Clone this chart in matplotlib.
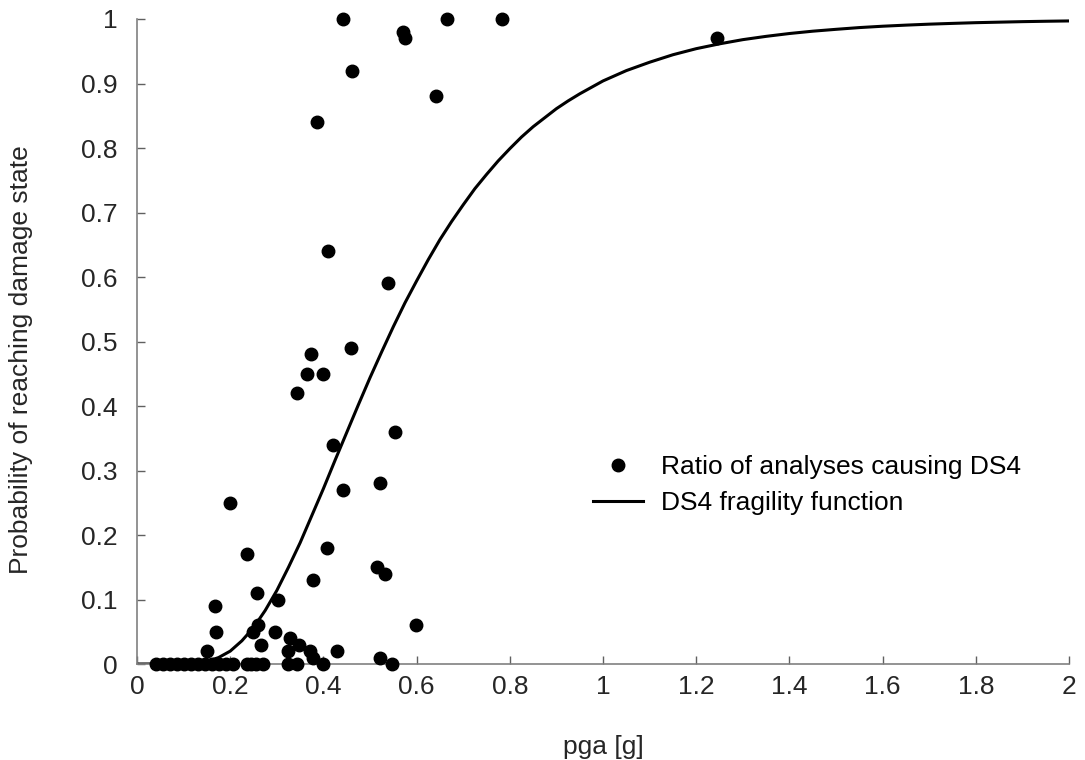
import matplotlib
matplotlib.use('Agg')
import matplotlib.pyplot as plt
from matplotlib.ticker import FuncFormatter

plt.rcParams['font.family'] = ['Liberation Sans', 'DejaVu Sans']

# Ratio of analyses causing DS4
pga_pts = [0.442, 0.665, 0.783, 0.571, 0.575, 1.245, 0.461, 0.642, 0.386, 0.41,
           0.539, 0.459, 0.373, 0.365, 0.40, 0.343, 0.554, 0.421, 0.521, 0.443,
           0.20, 0.407, 0.236, 0.515, 0.532, 0.377, 0.257, 0.302, 0.167, 0.26,
           0.599, 0.17, 0.249, 0.296, 0.328, 0.348, 0.266, 0.15, 0.324, 0.371,
           0.429, 0.378, 0.521,
           0.04, 0.055, 0.07, 0.085, 0.10, 0.115, 0.13, 0.145, 0.16, 0.175,
           0.19, 0.205, 0.235, 0.245, 0.255, 0.27, 0.325, 0.343, 0.40, 0.547]
ratio_pts = [1.0, 1.0, 1.0, 0.98, 0.97, 0.97, 0.92, 0.88, 0.84, 0.64,
             0.59, 0.49, 0.48, 0.45, 0.45, 0.42, 0.36, 0.34, 0.28, 0.27,
             0.25, 0.18, 0.17, 0.15, 0.14, 0.13, 0.11, 0.10, 0.09, 0.06,
             0.06, 0.05, 0.05, 0.05, 0.04, 0.03, 0.03, 0.02, 0.02, 0.02,
             0.02, 0.01, 0.01,
             0, 0, 0, 0, 0, 0, 0, 0, 0, 0,
             0, 0, 0, 0, 0, 0, 0, 0, 0, 0]

# DS4 fragility function
pga_curve = [0.0, 0.1, 0.125, 0.15, 0.175, 0.2, 0.225, 0.25, 0.275, 0.3,
             0.325, 0.35, 0.375, 0.4, 0.425, 0.45, 0.475, 0.5, 0.525, 0.55,
             0.575, 0.6, 0.625, 0.65, 0.675, 0.7, 0.725, 0.75, 0.775, 0.8,
             0.825, 0.85, 0.875, 0.9, 0.925, 0.95, 0.975, 1.0, 1.05, 1.1,
             1.15, 1.2, 1.25, 1.3, 1.35, 1.4, 1.45, 1.5, 1.55, 1.6,
             1.65, 1.7, 1.75, 1.8, 1.85, 1.9, 1.95, 2.0]
p_curve = [0.0, 0.0002, 0.001, 0.004, 0.010, 0.020, 0.036, 0.0565, 0.083, 0.114,
           0.150, 0.188, 0.230, 0.272, 0.316, 0.359, 0.402, 0.444, 0.484, 0.523,
           0.560, 0.594, 0.627, 0.658, 0.686, 0.712, 0.737, 0.759, 0.780, 0.799,
           0.817, 0.833, 0.847, 0.861, 0.873, 0.884, 0.894, 0.904, 0.920, 0.933,
           0.9446, 0.954, 0.9615, 0.968, 0.9731, 0.9775, 0.9811, 0.984, 0.9867, 0.9888,
           0.9905, 0.992, 0.9932, 0.9943, 0.9951, 0.9959, 0.9965, 0.997]

fig = plt.figure(figsize=(10.85, 7.6), dpi=100)
ax = fig.add_axes([0.1263, 0.1263, 0.8590, 0.8487])

ax.plot(pga_pts, ratio_pts, 'o', color='black', markersize=9, clip_on=False,
        label='Ratio of analyses causing DS4', zorder=3)
ax.plot(pga_curve, p_curve, '-', color='black', linewidth=2.2,
        label='DS4 fragility function', zorder=2)

ax.set_xlim(0, 2)
ax.set_ylim(0, 1)
ax.set_xticks([0, 0.2, 0.4, 0.6, 0.8, 1, 1.2, 1.4, 1.6, 1.8, 2])
ax.set_yticks([0, 0.1, 0.2, 0.3, 0.4, 0.5, 0.6, 0.7, 0.8, 0.9, 1])
fmt = FuncFormatter(lambda v, p: '%g' % round(v, 2))
ax.xaxis.set_major_formatter(fmt)
ax.yaxis.set_major_formatter(fmt)

for s in ['top', 'right']:
    ax.spines[s].set_visible(False)
for s in ['left', 'bottom']:
    ax.spines[s].set_color('#808080')
    ax.spines[s].set_linewidth(1.2)
ax.tick_params(direction='in', length=6, width=1, color='#606060',
               labelsize=19, labelcolor='#262626')
ax.tick_params(axis='x', pad=8)
ax.tick_params(axis='y', pad=14)

ax.set_xlabel('pga [g]', fontsize=19, color='#262626', labelpad=26)
ax.set_ylabel('Probability of reaching damage state', fontsize=19,
              color='#262626')
ax.yaxis.set_label_coords(-0.112, 0.472)

ax.legend(loc='center left', bbox_to_anchor=(0.489, 0.2775), frameon=False,
          fontsize=19, handlelength=1.9, labelspacing=0.45, handletextpad=0.7,
          borderpad=0, borderaxespad=0)

plt.savefig('out.png', dpi=100)
